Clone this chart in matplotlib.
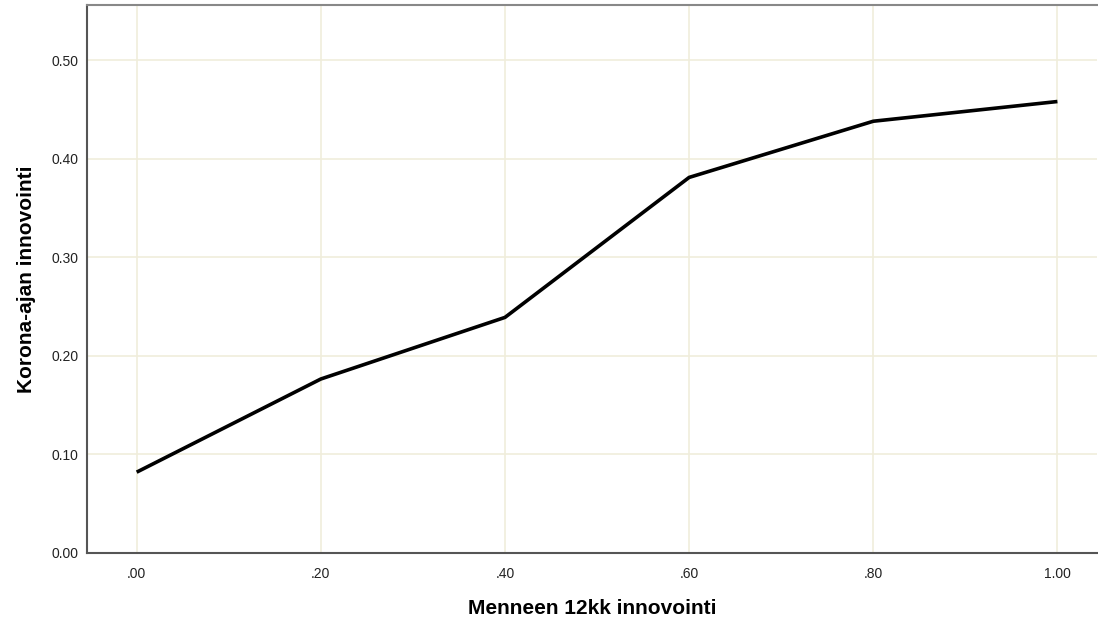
import numpy as np
import matplotlib
matplotlib.use("Agg")
import matplotlib.pyplot as plt

# data
x_vals = [0.0, 0.2, 0.4, 0.6, 0.8, 1.0]
y_vals = [0.082, 0.1765, 0.239, 0.381, 0.438, 0.458]
x_ticks = [0.0, 0.2, 0.4, 0.6, 0.8, 1.0]
x_labels = [".00", ".20", ".40", ".60", ".80", "1.00"]
y_ticks = [0.0, 0.1, 0.2, 0.3, 0.4, 0.5]
y_labels = ["0.00", "0.10", "0.20", "0.30", "0.40", "0.50"]

plt.rcParams['font.family'] = ['Liberation Sans', 'DejaVu Sans']

fig = plt.figure(figsize=(10.98, 6.24), dpi=100)
ax = fig.add_axes([0.0792, 0.1138, 0.9199, 0.878])

ax.plot(x_vals, y_vals, color="black", lw=2.6, solid_capstyle="butt", zorder=3)

ax.set_xlim(-0.054, 1.043)
ax.set_ylim(0, 0.5558)
ax.set_xticks(x_ticks)
ax.set_xticklabels(x_labels)
ax.set_yticks(y_ticks)
ax.set_yticklabels(y_labels)
ax.tick_params(length=0, labelsize=10, colors="#222222")
ax.tick_params(axis="x", pad=10)
ax.tick_params(axis="y", pad=6)

ax.grid(True, color="#f0eddb", lw=1.2, zorder=0)
ax.set_axisbelow(True)

for s in ["left", "bottom"]:
    ax.spines[s].set_color("#555555")
    ax.spines[s].set_linewidth(1.5)
ax.spines["top"].set_color("#888888")
ax.spines["top"].set_linewidth(1.5)
ax.spines["right"].set_visible(False)

ax.set_xlabel("Menneen 12kk innovointi", fontsize=15, fontweight="bold", labelpad=13)
ax.set_ylabel("Korona-ajan innovointi", fontsize=15, fontweight="bold", labelpad=11)

fig.savefig("out.png")
